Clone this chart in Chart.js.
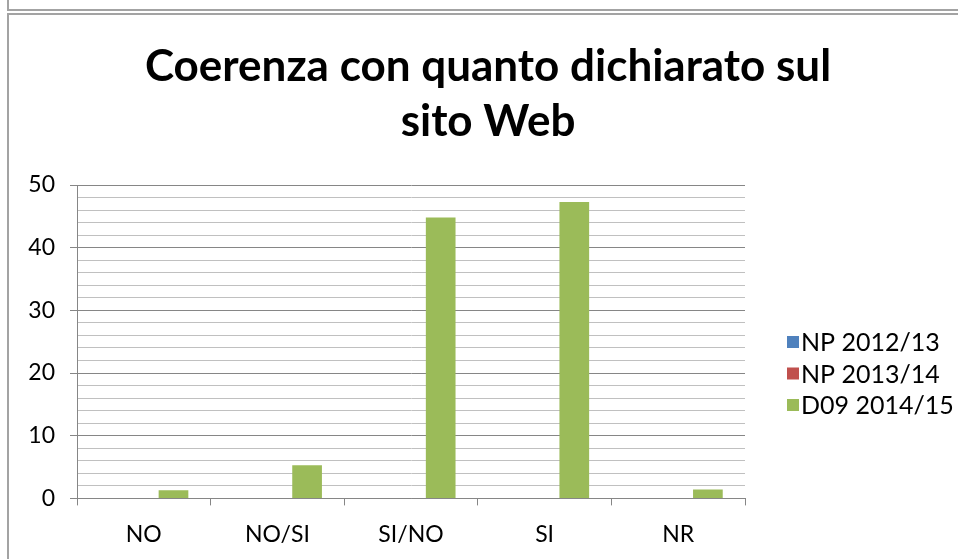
<!DOCTYPE html>
<html>
<head>
<meta charset="utf-8">
<title>Coerenza con quanto dichiarato sul sito Web</title>
<script src="https://cdn.jsdelivr.net/npm/chart.js@4/dist/chart.umd.min.js"></script>
<style>
  html, body { margin: 0; padding: 0; background: #fff; }
  body { width: 958px; height: 559px; position: relative; overflow: hidden; }
  .frame { position: absolute; border: 2px solid #a3a3a3; box-sizing: border-box; }
  .frame.prev { left: 7px; top: -20px; width: 1000px; height: 31px; }
  .frame.main { left: 7px; top: 13px; width: 1000px; height: 600px; }
  #wrap { position: absolute; left: 0; top: 0; width: 958px; height: 559px; }
</style>
</head>
<body>
<div class="frame prev"></div>
<div class="frame main"></div>
<div id="wrap"><canvas id="chart"></canvas></div>
<script>
// Chart data
const categories = ["NO", "NO/SI", "SI/NO", "SI", "NR"]
const np1213 = [0, 0, 0, 0, 0]
const np1314 = [0, 0, 0, 0, 0]
const d091415 = [1.3, 5.3, 44.8, 47.3, 1.4]
const titleLines = ["Coerenza con quanto dichiarato sul", "sito Web"]

const MAJOR = "#868686"
const MINOR = "#c0c0c0"

Chart.defaults.font.family = "Lato, 'Open Sans', sans-serif"
Chart.defaults.color = "#000"

// title is centred on the whole Excel frame, not just the canvas
const centerTitle = {
  id: "centerTitle",
  afterLayout(chart) {
    const t = chart.titleBlock
    t.left = 8
    t.right = 968
    t.width = 960
  },
}

// Excel style legend to the right of the plot
const sideLegend = {
  id: "sideLegend",
  afterDraw(chart) {
    const {ctx, chartArea} = chart
    ctx.save()
    ctx.font = "25px Lato"
    ctx.textBaseline = "middle"
    chart.data.datasets.forEach((ds, i) => {
      const x = chartArea.right + 42
      const y = chartArea.top + 157 + i * 31.5
      ctx.fillStyle = ds.backgroundColor
      ctx.fillRect(x, y - 6, 12, 12)
      ctx.fillStyle = "#000"
      ctx.fillText(ds.label, x + 14, y + 1)
    })
    ctx.restore()
  },
}

new Chart(document.getElementById("chart"), {
  type: "bar",
  data: {
    labels: categories,
    datasets: [
      { label: "NP 2012/13", data: np1213, backgroundColor: "#4f81bd" },
      { label: "NP 2013/14", data: np1314, backgroundColor: "#c0504d" },
      { label: "D09 2014/15", data: d091415, backgroundColor: "#9bbb59" },
    ],
  },
  options: {
    responsive: true,
    maintainAspectRatio: false,
    animation: false,
    datasets: { bar: { categoryPercentage: 3 / 4.5, barPercentage: 1, borderWidth: 0 } },
    layout: { padding: { left: 8, right: 213, top: 10, bottom: -4 } },
    plugins: {
      legend: { display: false },
      tooltip: { enabled: false },
      title: {
        display: true,
        text: titleLines,
        color: "#000",
        font: { size: 44, weight: "bold", lineHeight: 1.25 },
        padding: { top: 29, bottom: 36 },
      },
    },
    scales: {
      x: {
        offset: true,
        grid: { offset: true, drawOnChartArea: false, color: MAJOR, tickLength: 7 },
        border: { color: MAJOR },
        ticks: { font: { size: 23 }, padding: 15, color: "#000" },
      },
      y: {
        min: 0,
        max: 50,
        afterFit(scale) { scale.width = 69 },
        grid: {
          color: c => (c.tick && c.tick.value % 10 === 0 ? MAJOR : MINOR),
          tickColor: c => (c.tick && c.tick.value % 10 === 0 ? MAJOR : "rgba(0,0,0,0)"),
          tickLength: 7,
        },
        border: { color: MAJOR },
        ticks: {
          stepSize: 2,
          autoSkip: false,
          padding: 15,
          font: { size: 23 },
          color: "#000",
          callback: v => (v % 10 === 0 ? v : ""),
        },
      },
    },
  },
  plugins: [centerTitle, sideLegend],
})
</script>
</body>
</html>
